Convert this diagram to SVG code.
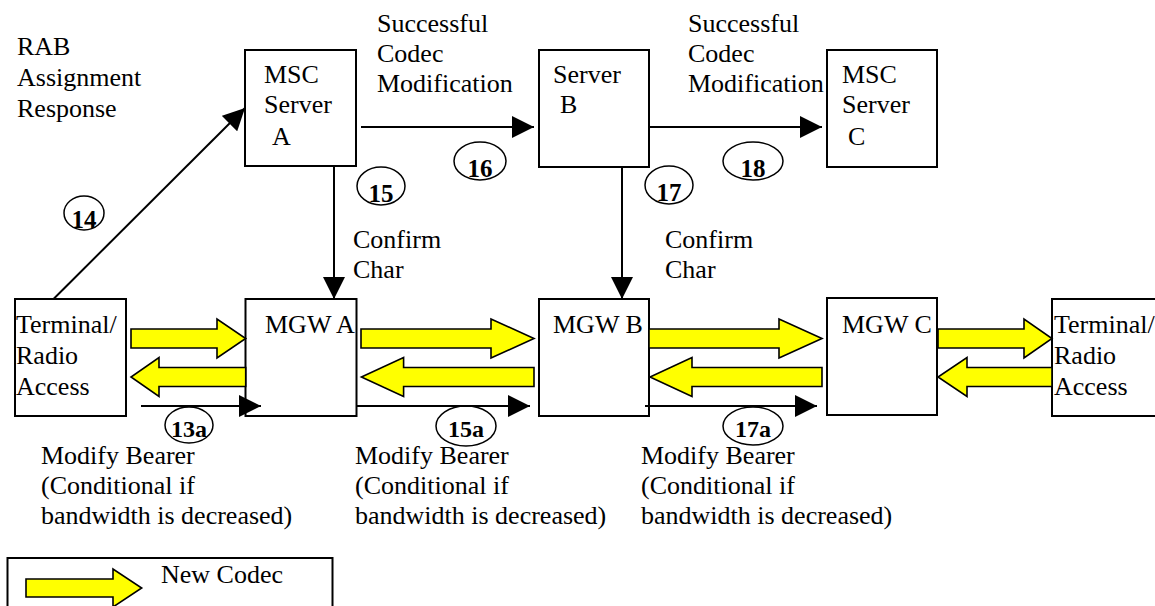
<svg xmlns="http://www.w3.org/2000/svg" width="1155" height="606" viewBox="0 0 1155 606">
<style>
.box{fill:#fff;stroke:#000;stroke-width:2}
.t{font-family:"Liberation Serif","Times New Roman",Tinos,"DejaVu Serif",serif;font-size:26px;font-weight:normal;font-style:normal;fill:#000}
.n{font-family:"Liberation Serif","Times New Roman",Tinos,"DejaVu Serif",serif;font-size:25px;font-weight:bold;fill:#000;text-anchor:middle}
.ns{font-size:24px}
.ell{fill:none;stroke:#000;stroke-width:1.5}
.ln{fill:none;stroke:#000;stroke-width:2}
.ya{fill:#ffff00;stroke:#000;stroke-width:1.6;stroke-linejoin:miter}
</style>
<defs>
<marker id="ah" markerUnits="userSpaceOnUse" markerWidth="22" markerHeight="22" viewBox="0 0 20 20" refX="20" refY="10" orient="auto">
<path d="M0,0 L20,10 L0,20 Z" fill="#000"/>
</marker>
</defs>
<rect width="1155" height="606" fill="#fff"/>

<g id="msc-a"><rect class="box" x="245" y="50" width="111" height="116"/>
<text class="t" x="264" y="83">MSC</text><text class="t" x="264" y="113">Server</text><text class="t" x="272" y="145">A</text></g>
<g id="server-b"><rect class="box" x="539" y="50" width="110" height="117"/>
<text class="t" x="553" y="83">Server</text><text class="t" x="560" y="113">B</text></g>
<g id="msc-c"><rect class="box" x="827" y="50" width="110" height="117"/>
<text class="t" x="842" y="83">MSC</text><text class="t" x="842" y="113">Server</text><text class="t" x="848" y="145">C</text></g>

<g id="terminal-left"><rect class="box" x="15" y="299" width="111" height="117"/></g>
<g id="mgw-a"><rect class="box" x="245.5" y="299" width="111" height="117"/></g>
<g id="mgw-b"><rect class="box" x="539" y="299" width="110" height="117"/></g>
<g id="mgw-c"><rect class="box" x="827" y="298" width="110" height="117"/></g>
<g id="terminal-right"><rect class="box" x="1052" y="299" width="110" height="117"/></g>

<g id="connectors">
<line class="ln" x1="53.5" y1="299" x2="245" y2="108" marker-end="url(#ah)"/>
<line class="ln" x1="361" y1="127" x2="534" y2="127" marker-end="url(#ah)"/>
<line class="ln" x1="649" y1="127" x2="822" y2="127" marker-end="url(#ah)"/>
<line class="ln" x1="334" y1="166" x2="334" y2="299" marker-end="url(#ah)"/>
<line class="ln" x1="622" y1="167" x2="622" y2="299" marker-end="url(#ah)"/>
<line class="ln" x1="141" y1="406" x2="261" y2="406" marker-end="url(#ah)"/>
<line class="ln" x1="356" y1="406" x2="530" y2="406" marker-end="url(#ah)"/>
<line class="ln" x1="645" y1="406" x2="817" y2="406" marker-end="url(#ah)"/>

<polygon class="ya" points="131,329 217,329 217,319 245.7,338.5 217,358 217,348 131,348"/>
<polygon class="ya" points="361,329 491,329 491,319 534,338.5 491,358 491,348 361,348"/>
<polygon class="ya" points="649,329 779,329 779,319 822,338.5 779,358 779,348 649,348"/>
<polygon class="ya" points="938,329 1024,329 1024,319 1052,338.5 1024,358 1024,348 938,348"/>

<polygon class="ya" points="245.7,367.5 159,367.5 159,357.5 131,377 159,396.5 159,386.5 245.7,386.5"/>
<polygon class="ya" points="534,367.5 403.6,367.5 403.6,357.5 361.4,377 403.6,396.5 403.6,386.5 534,386.5"/>
<polygon class="ya" points="822,367.5 692,367.5 692,357.5 650,377 692,396.5 692,386.5 822,386.5"/>
<polygon class="ya" points="1052,367.5 967,367.5 967,357.5 938,377 967,396.5 967,386.5 1052,386.5"/>
</g>

<g id="node-text">
<text class="t" x="265" y="333">MGW A</text>
<text class="t" x="553" y="333">MGW B</text>
<text class="t" x="842" y="333">MGW C</text>
<text class="t" x="16" y="333">Terminal/</text><text class="t" x="16" y="364">Radio</text><text class="t" x="16" y="395">Access</text>
<text class="t" x="1054" y="333">Terminal/</text><text class="t" x="1054" y="364">Radio</text><text class="t" x="1054" y="395">Access</text>
</g>

<g id="labels">
<text class="t" x="17" y="55">RAB</text><text class="t" x="17" y="86">Assignment</text><text class="t" x="17" y="117">Response</text>
<text class="t" x="377" y="32">Successful</text><text class="t" x="377" y="62">Codec</text><text class="t" x="377" y="92">Modification</text>
<text class="t" x="688" y="32">Successful</text><text class="t" x="688" y="62">Codec</text><text class="t" x="688" y="92">Modification</text>
<text class="t" x="353" y="248">Confirm</text><text class="t" x="353" y="278">Char</text>
<text class="t" x="665" y="248">Confirm</text><text class="t" x="665" y="278">Char</text>
<text class="t" x="41" y="464">Modify Bearer</text><text class="t" x="41" y="494">(Conditional if</text><text class="t" x="41" y="524">bandwidth is decreased)</text>
<text class="t" x="355" y="464">Modify Bearer</text><text class="t" x="355" y="494">(Conditional if</text><text class="t" x="355" y="524">bandwidth is decreased)</text>
<text class="t" x="641" y="464">Modify Bearer</text><text class="t" x="641" y="494">(Conditional if</text><text class="t" x="641" y="524">bandwidth is decreased)</text>
</g>

<g id="step-numbers">
<ellipse class="ell" cx="84" cy="213" rx="20" ry="17"/><text class="n" x="84" y="228">14</text>
<ellipse class="ell" cx="381" cy="186" rx="24" ry="19"/><text class="n" x="381" y="202">15</text>
<ellipse class="ell" cx="480" cy="161" rx="26" ry="19"/><text class="n" x="480" y="177">16</text>
<ellipse class="ell" cx="669" cy="185" rx="24" ry="19"/><text class="n" x="669" y="201">17</text>
<ellipse class="ell" cx="753" cy="161" rx="30" ry="19"/><text class="n" x="753" y="177">18</text>
<ellipse class="ell" cx="189" cy="425" rx="24" ry="18"/><text class="n ns" x="189" y="437">13a</text>
<ellipse class="ell" cx="466" cy="426" rx="30" ry="20"/><text class="n ns" x="466" y="437">15a</text>
<ellipse class="ell" cx="753" cy="426" rx="30" ry="19"/><text class="n ns" x="753" y="437">17a</text>
</g>

<g id="legend">
<rect class="box" x="7.5" y="558" width="325" height="60"/>
<polygon class="ya" points="26,579 113,579 113,569 141.7,588 113,607 113,597 26,597"/>
<text class="t" x="161" y="583">New Codec</text>
</g>
</svg>
